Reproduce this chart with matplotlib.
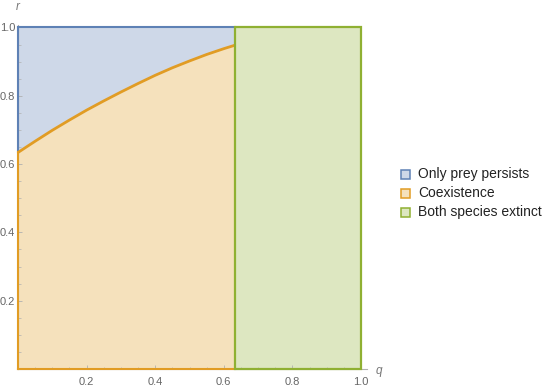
import numpy as np
import matplotlib
matplotlib.use("Agg")
import matplotlib.pyplot as plt
from matplotlib.patches import Polygon, Rectangle
from matplotlib.ticker import MultipleLocator

# Values
q_threshold = 0.632
q_curve = [0.0, 0.05, 0.1, 0.15, 0.2, 0.25, 0.3, 0.35, 0.4, 0.45, 0.5, 0.55, 0.6, 0.632]
r_curve = [0.634, 0.667, 0.699, 0.729, 0.758, 0.785, 0.811, 0.836, 0.860, 0.882,
           0.902, 0.921, 0.938, 0.948]
region_labels = ["Only prey persists", "Coexistence", "Both species extinct"]
region_colors = ["#5E81B5", "#E19C24", "#8FB032"]
tick_vals = [0.2, 0.4, 0.6, 0.8, 1.0]

W, H = 553, 388
fig = plt.figure(figsize=(W / 100, H / 100), dpi=100)

# axes placement in pixels (origin at (18, 369) from top-left)
x0, y0 = 18, 369
sx, sy = 343.0, 341.5
xmax, ymax = 1.017, 1.008
ax = fig.add_axes([x0 / W, (H - y0) / H, sx * xmax / W, sy * ymax / H])
ax.set_xlim(0, xmax)
ax.set_ylim(0, ymax)

qc = np.array(q_curve)
rc = np.array(r_curve)

# only prey persists: between curve and r=1
blue = Polygon(np.vstack([np.column_stack([qc, rc]),
                          [[q_threshold, 1.0], [0.0, 1.0]]]),
               closed=True, facecolor=region_colors[0], alpha=0.3, edgecolor="none")
ax.add_patch(blue)
ax.plot([0, q_threshold], [1, 1], color=region_colors[0], lw=1.5, zorder=3, clip_on=False)
ax.plot([0, 0], [r_curve[0], 1], color=region_colors[0], lw=1.5, zorder=3, clip_on=False)

# coexistence: below curve
orange = Polygon(np.vstack([[[0.0, 0.0]], np.column_stack([qc, rc]),
                            [[q_threshold, 0.0]]]),
                 closed=True, facecolor=region_colors[1], alpha=0.3, edgecolor="none")
ax.add_patch(orange)
ax.plot(qc, rc, color=region_colors[1], lw=2.0, zorder=4, solid_capstyle="butt")
ax.plot([0, 0], [0, r_curve[0]], color=region_colors[1], lw=1.5, zorder=3, clip_on=False)
ax.plot([0, q_threshold], [0, 0], color=region_colors[1], lw=1.5, zorder=3, clip_on=False)

# both species extinct
ax.add_patch(Rectangle((q_threshold, 0), 1 - q_threshold, 1.0,
                       facecolor=region_colors[2], alpha=0.3, edgecolor="none"))
ax.add_patch(Rectangle((q_threshold, 0), 1 - q_threshold, 1.0, fill=False,
                       edgecolor=region_colors[2], lw=1.6, zorder=5, clip_on=False))

# axes look
axis_gray = "#B0B0B0"
for side in ["top", "right"]:
    ax.spines[side].set_visible(False)
for side in ["left", "bottom"]:
    ax.spines[side].set_color(axis_gray)
    ax.spines[side].set_linewidth(0.8)
ax.patch.set_alpha(0)

ax.xaxis.set_minor_locator(MultipleLocator(0.05))
ax.yaxis.set_minor_locator(MultipleLocator(0.05))
ax.set_xticks(tick_vals)
ax.set_yticks(tick_vals)
ax.set_xticklabels([f"{v:.1f}" for v in tick_vals], family="Liberation Sans")
ax.set_yticklabels([f"{v:.1f}" for v in tick_vals], family="Liberation Sans")
ax.tick_params(which="major", direction="in", length=3, width=0.6, color=axis_gray,
               labelsize=8, labelcolor="#666666")
ax.tick_params(axis="x", which="major", pad=5.5)
ax.tick_params(axis="y", which="major", pad=2)
ax.tick_params(which="minor", direction="in", length=1.8, width=0.5, color=axis_gray)

ax.text(0.0, 1.061, "r", style="italic", fontsize=8.5, color="#777777",
        family="Liberation Sans", ha="center", va="center", clip_on=False)
ax.text(1.052, -0.006, "q", style="italic", fontsize=8.5, color="#777777",
        family="Liberation Sans", ha="center", va="center", clip_on=False)

# legend
ly = [174, 193, 212]
for label, color, y in zip(region_labels, region_colors, ly):
    fig.patches.append(Rectangle((401 / W, (H - y - 4.5) / H), 9 / W, 9 / H,
                                 transform=fig.transFigure, facecolor=color,
                                 alpha=0.3, edgecolor="none"))
    fig.patches.append(Rectangle((401 / W, (H - y - 4.5) / H), 9 / W, 9 / H,
                                 transform=fig.transFigure, fill=False,
                                 edgecolor=color, lw=1.1))
    fig.text(418 / W, (H - y) / H, label, fontsize=10, color="#222222",
             ha="left", va="center", family="Liberation Sans")

fig.savefig("out.png", dpi=100)
